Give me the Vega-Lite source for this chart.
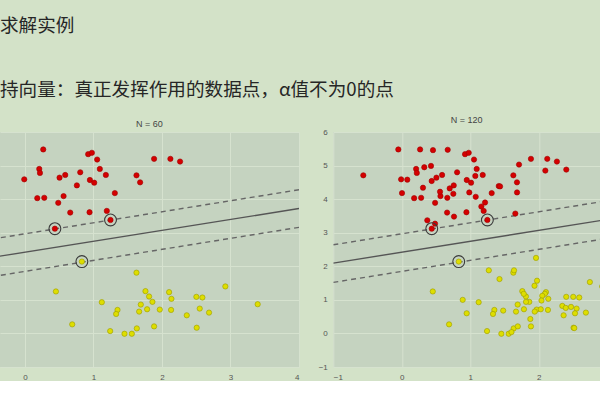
{
  "$schema": "https://vega.github.io/schema/vega-lite/v6.json",
  "background": "#d3e2c8",
  "padding": {"left": 0, "top": 16, "right": 0, "bottom": 0},
  "title": {
    "text": "求解实例",
    "subtitle": "持向量：真正发挥作用的数据点，α值不为0的点",
    "anchor": "start",
    "frame": "group",
    "font": "Noto Sans CJK SC",
    "fontSize": 18.6,
    "fontWeight": "normal",
    "color": "#262626",
    "subtitleFont": "Noto Sans CJK SC",
    "subtitleFontSize": 18.6,
    "subtitleColor": "#262626",
    "subtitlePadding": 46,
    "offset": 16
  },
  "datasets": {
    "pts": [
      {"x": 0.267, "y": 5.48, "c": "r", "s": "a"}, {"x": 0.923, "y": 5.34, "c": "r", "s": "a"}, {"x": 0.977, "y": 5.38, "c": "r", "s": "a"}, {"x": 1.054, "y": 5.18, "c": "r", "s": "a"}, {"x": 1.885, "y": 5.20, "c": "r", "s": "a"}, {"x": 2.123, "y": 5.20, "c": "r", "s": "a"}, {"x": 2.264, "y": 5.12, "c": "r", "s": "a"}, {"x": 0.209, "y": 4.90, "c": "r", "s": "a"}, {"x": 0.219, "y": 4.78, "c": "r", "s": "a"}, {"x": 1.093, "y": 4.90, "c": "r", "s": "a"},
      {"x": -0.010, "y": 4.59, "c": "r", "s": "a"}, {"x": 0.505, "y": 4.64, "c": "r", "s": "a"}, {"x": 0.588, "y": 4.72, "c": "r", "s": "a"}, {"x": 0.807, "y": 4.80, "c": "r", "s": "a"}, {"x": 1.181, "y": 4.72, "c": "r", "s": "a"}, {"x": 1.628, "y": 4.71, "c": "r", "s": "a"}, {"x": 0.948, "y": 4.57, "c": "r", "s": "a"}, {"x": 1.011, "y": 4.49, "c": "r", "s": "a"}, {"x": 1.681, "y": 4.50, "c": "r", "s": "a"}, {"x": 0.758, "y": 4.41, "c": "r", "s": "a"},
      {"x": 1.312, "y": 4.18, "c": "r", "s": "a"}, {"x": 0.180, "y": 4.03, "c": "r", "s": "a"}, {"x": 0.282, "y": 4.04, "c": "r", "s": "a"}, {"x": 0.564, "y": 4.09, "c": "r", "s": "a"}, {"x": 0.486, "y": 3.89, "c": "r", "s": "a"}, {"x": 0.661, "y": 3.60, "c": "r", "s": "a"}, {"x": 0.943, "y": 3.61, "c": "r", "s": "a"}, {"x": 1.195, "y": 3.65, "c": "r", "s": "a"}, {"x": 1.249, "y": 3.38, "c": "r", "s": "a"}, {"x": 0.437, "y": 3.12, "c": "r", "s": "a"},
      {"x": 0.831, "y": 2.14, "c": "y", "s": "a"}, {"x": 1.628, "y": 1.81, "c": "y", "s": "a"}, {"x": 0.452, "y": 1.25, "c": "y", "s": "a"}, {"x": 1.759, "y": 1.26, "c": "y", "s": "a"}, {"x": 1.812, "y": 1.10, "c": "y", "s": "a"}, {"x": 2.104, "y": 1.23, "c": "y", "s": "a"}, {"x": 2.138, "y": 1.03, "c": "y", "s": "a"}, {"x": 2.502, "y": 1.09, "c": "y", "s": "a"}, {"x": 2.590, "y": 1.07, "c": "y", "s": "a"}, {"x": 2.925, "y": 1.40, "c": "y", "s": "a"},
      {"x": 1.122, "y": 0.93, "c": "y", "s": "a"}, {"x": 1.861, "y": 0.94, "c": "y", "s": "a"}, {"x": 1.691, "y": 0.86, "c": "y", "s": "a"}, {"x": 1.351, "y": 0.70, "c": "y", "s": "a"}, {"x": 1.331, "y": 0.58, "c": "y", "s": "a"}, {"x": 1.783, "y": 0.72, "c": "y", "s": "a"}, {"x": 1.667, "y": 0.65, "c": "y", "s": "a"}, {"x": 1.968, "y": 0.71, "c": "y", "s": "a"}, {"x": 2.133, "y": 0.70, "c": "y", "s": "a"}, {"x": 2.551, "y": 0.74, "c": "y", "s": "a"},
      {"x": 2.687, "y": 0.62, "c": "y", "s": "a"}, {"x": 2.362, "y": 0.54, "c": "y", "s": "a"}, {"x": 3.397, "y": 0.87, "c": "y", "s": "a"}, {"x": 0.690, "y": 0.27, "c": "y", "s": "a"}, {"x": 1.885, "y": 0.21, "c": "y", "s": "a"}, {"x": 2.507, "y": 0.17, "c": "y", "s": "a"}, {"x": 1.633, "y": 0.15, "c": "y", "s": "a"}, {"x": 1.244, "y": 0.07, "c": "y", "s": "a"}, {"x": 1.453, "y": -0.01, "c": "y", "s": "a"}, {"x": 1.560, "y": -0.01, "c": "y", "s": "a"},
      {"x": -0.051, "y": 5.48, "c": "r", "s": "b"}, {"x": 0.455, "y": 5.46, "c": "r", "s": "b"}, {"x": 0.670, "y": 5.47, "c": "r", "s": "b"}, {"x": -0.562, "y": 4.71, "c": "r", "s": "b"}, {"x": 0.328, "y": 4.95, "c": "r", "s": "b"}, {"x": 0.426, "y": 4.99, "c": "r", "s": "b"}, {"x": 0.080, "y": 4.58, "c": "r", "s": "b"}, {"x": 0.436, "y": 4.54, "c": "r", "s": "b"}, {"x": 0.003, "y": 4.18, "c": "r", "s": "b"}, {"x": 0.309, "y": 4.34, "c": "r", "s": "b"},
      {"x": 0.558, "y": 4.22, "c": "r", "s": "b"}, {"x": 0.699, "y": 4.32, "c": "r", "s": "b"}, {"x": 0.752, "y": 4.16, "c": "r", "s": "b"}, {"x": 0.985, "y": 4.20, "c": "r", "s": "b"}, {"x": 0.664, "y": 4.04, "c": "r", "s": "b"}, {"x": 0.762, "y": 3.48, "c": "r", "s": "b"}, {"x": 0.372, "y": 3.37, "c": "r", "s": "b"}, {"x": 1.073, "y": 4.69, "c": "r", "s": "b"}, {"x": 1.079, "y": 4.07, "c": "r", "s": "b"}, {"x": 1.415, "y": 4.39, "c": "r", "s": "b"},
      {"x": 1.434, "y": 4.38, "c": "r", "s": "b"}, {"x": 1.215, "y": 3.90, "c": "r", "s": "b"}, {"x": 1.161, "y": 3.78, "c": "r", "s": "b"}, {"x": 1.657, "y": 3.57, "c": "r", "s": "b"}, {"x": 1.711, "y": 5.03, "c": "r", "s": "b"}, {"x": 2.095, "y": 4.85, "c": "r", "s": "b"}, {"x": 2.401, "y": 4.88, "c": "r", "s": "b"}, {"x": 1.682, "y": 4.20, "c": "r", "s": "b"}, {"x": 0.485, "y": 3.27, "c": "r", "s": "b"},
      {"x": 1.959, "y": 2.25, "c": "y", "s": "b"}, {"x": 1.270, "y": 1.88, "c": "y", "s": "b"}, {"x": 1.638, "y": 1.88, "c": "y", "s": "b"}, {"x": 1.426, "y": 1.62, "c": "y", "s": "b"}, {"x": 1.974, "y": 1.57, "c": "y", "s": "b"}, {"x": 1.937, "y": 1.42, "c": "y", "s": "b"}, {"x": 2.745, "y": 1.53, "c": "y", "s": "b"}, {"x": 1.780, "y": 1.18, "c": "y", "s": "b"}, {"x": 2.088, "y": 1.18, "c": "y", "s": "b"}, {"x": 2.050, "y": 1.12, "c": "y", "s": "b"},
      {"x": 0.889, "y": 1.00, "c": "y", "s": "b"}, {"x": 1.813, "y": 0.94, "c": "y", "s": "b"}, {"x": 2.039, "y": 0.98, "c": "y", "s": "b"}, {"x": 2.400, "y": 1.09, "c": "y", "s": "b"}, {"x": 1.940, "y": 0.65, "c": "y", "s": "b"}, {"x": 2.028, "y": 0.72, "c": "y", "s": "b"}, {"x": 2.343, "y": 0.82, "c": "y", "s": "b"}, {"x": 2.393, "y": 0.76, "c": "y", "s": "b"}, {"x": 2.470, "y": 0.79, "c": "y", "s": "b"}, {"x": 2.528, "y": 0.60, "c": "y", "s": "b"},
      {"x": 1.480, "y": 0.68, "c": "y", "s": "b"}, {"x": 0.947, "y": 0.60, "c": "y", "s": "b"}, {"x": 1.876, "y": 0.43, "c": "y", "s": "b"}, {"x": 1.601, "y": 0.04, "c": "y", "s": "b"}, {"x": 1.693, "y": 0.21, "c": "y", "s": "b"}, {"x": 2.518, "y": 0.16, "c": "y", "s": "b"}
    ],
    "sv": [
      {"x": 0.437, "y": 3.12}, {"x": 1.249, "y": 3.38}, {"x": 0.831, "y": 2.14}
    ],
    "lines": [
      {"x": -1, "y": 2.095, "k": "m"}, {"x": 4, "y": 3.72, "k": "m"},
      {"x": -1, "y": 2.64, "k": "u"}, {"x": 4, "y": 4.28, "k": "u"},
      {"x": -1, "y": 1.52, "k": "l"}, {"x": 4, "y": 3.16, "k": "l"}
    ]
  },
  "spacing": 34.3,
  "bounds": "flush",
  "hconcat": [
    {
      "width": 299,
      "height": 235,
      "title": {"text": "N = 60", "fontSize": 9, "fontWeight": "normal", "color": "#444444", "font": "Liberation Sans", "offset": 3},
      "encoding": {
        "x": {"field": "x", "type": "quantitative", "scale": {"domain": [-0.364, 4], "nice": false, "zero": false}, "axis": {"values": [0, 1, 2, 3, 4], "format": "d", "labelPadding": 6, "labelOverlap": false}},
        "y": {"field": "y", "type": "quantitative", "scale": {"domain": [-1, 6], "nice": false, "zero": false}, "axis": {"values": [-1, 0, 1, 2, 3, 4, 5, 6], "labels": false}}
      },
      "layer": [
        {
          "data": {"name": "lines"},
          "transform": [{"filter": "datum.k == 'm'"}],
          "mark": {"type": "line", "clip": true, "color": "#555555", "strokeWidth": 1.4}
        },
        {
          "data": {"name": "lines"},
          "transform": [{"filter": "datum.k != 'm'"}],
          "mark": {"type": "line", "clip": true, "color": "#666666", "strokeWidth": 1.4, "strokeDash": [5, 4]},
          "encoding": {"detail": {"field": "k"}}
        },
        {
          "data": {"name": "pts"},
          "transform": [{"filter": "datum.s == 'a'"}],
          "mark": {"type": "circle", "clip": true, "size": 28, "opacity": 1, "strokeWidth": 0.6},
          "encoding": {
            "fill": {"field": "c", "type": "nominal", "scale": {"domain": ["r", "y"], "range": ["#d40000", "#dede00"]}, "legend": null},
            "stroke": {"field": "c", "type": "nominal", "scale": {"domain": ["r", "y"], "range": ["#a00000", "#9a9a00"]}, "legend": null}
          }
        },
        {
          "data": {"name": "sv"},
          "mark": {"type": "point", "shape": "circle", "clip": true, "size": 140, "filled": false, "color": "#3a3a3a", "strokeWidth": 1.1, "opacity": 1}
        }
      ]
    },
    {
      "width": 266.7,
      "height": 235,
      "title": {"text": "N = 120", "fontSize": 9, "fontWeight": "normal", "color": "#444444", "font": "Liberation Sans", "offset": 3},
      "encoding": {
        "x": {"field": "x", "type": "quantitative", "scale": {"domain": [-1, 2.893], "nice": false, "zero": false}, "axis": {"values": [-1, 0, 1, 2], "format": "d", "labelPadding": 6, "labelOverlap": false}},
        "y": {"field": "y", "type": "quantitative", "scale": {"domain": [-1, 6], "nice": false, "zero": false}, "axis": {"values": [-1, 0, 1, 2, 3, 4, 5, 6], "format": "d", "labelPadding": 6, "labelOverlap": false, "labelSeparation": 0, "labelBound": false}}
      },
      "layer": [
        {
          "data": {"name": "lines"},
          "transform": [{"filter": "datum.k == 'm'"}],
          "mark": {"type": "line", "clip": true, "color": "#555555", "strokeWidth": 1.4}
        },
        {
          "data": {"name": "lines"},
          "transform": [{"filter": "datum.k != 'm'"}],
          "mark": {"type": "line", "clip": true, "color": "#666666", "strokeWidth": 1.4, "strokeDash": [5, 4]},
          "encoding": {"detail": {"field": "k"}}
        },
        {
          "data": {"name": "pts"},
          "mark": {"type": "circle", "clip": true, "size": 28, "opacity": 1, "strokeWidth": 0.6},
          "encoding": {
            "fill": {"field": "c", "type": "nominal", "scale": {"domain": ["r", "y"], "range": ["#d40000", "#dede00"]}, "legend": null},
            "stroke": {"field": "c", "type": "nominal", "scale": {"domain": ["r", "y"], "range": ["#a00000", "#9a9a00"]}, "legend": null}
          }
        },
        {
          "data": {"name": "sv"},
          "mark": {"type": "point", "shape": "circle", "clip": true, "size": 140, "filled": false, "color": "#3a3a3a", "strokeWidth": 1.1, "opacity": 1}
        }
      ]
    }
  ],
  "config": {
    "view": {"fill": "#c5d3c0", "stroke": null},
    "axis": {
      "grid": true,
      "gridColor": "#d6e2cf",
      "gridWidth": 1,
      "domain": false,
      "ticks": false,
      "title": null,
      "labelOverlap": false,
      "labelColor": "#555555",
      "labelFont": "Liberation Sans",
      "labelFontSize": 8
    },
    "axisY": {"labelOverlap": false}
  }
}
